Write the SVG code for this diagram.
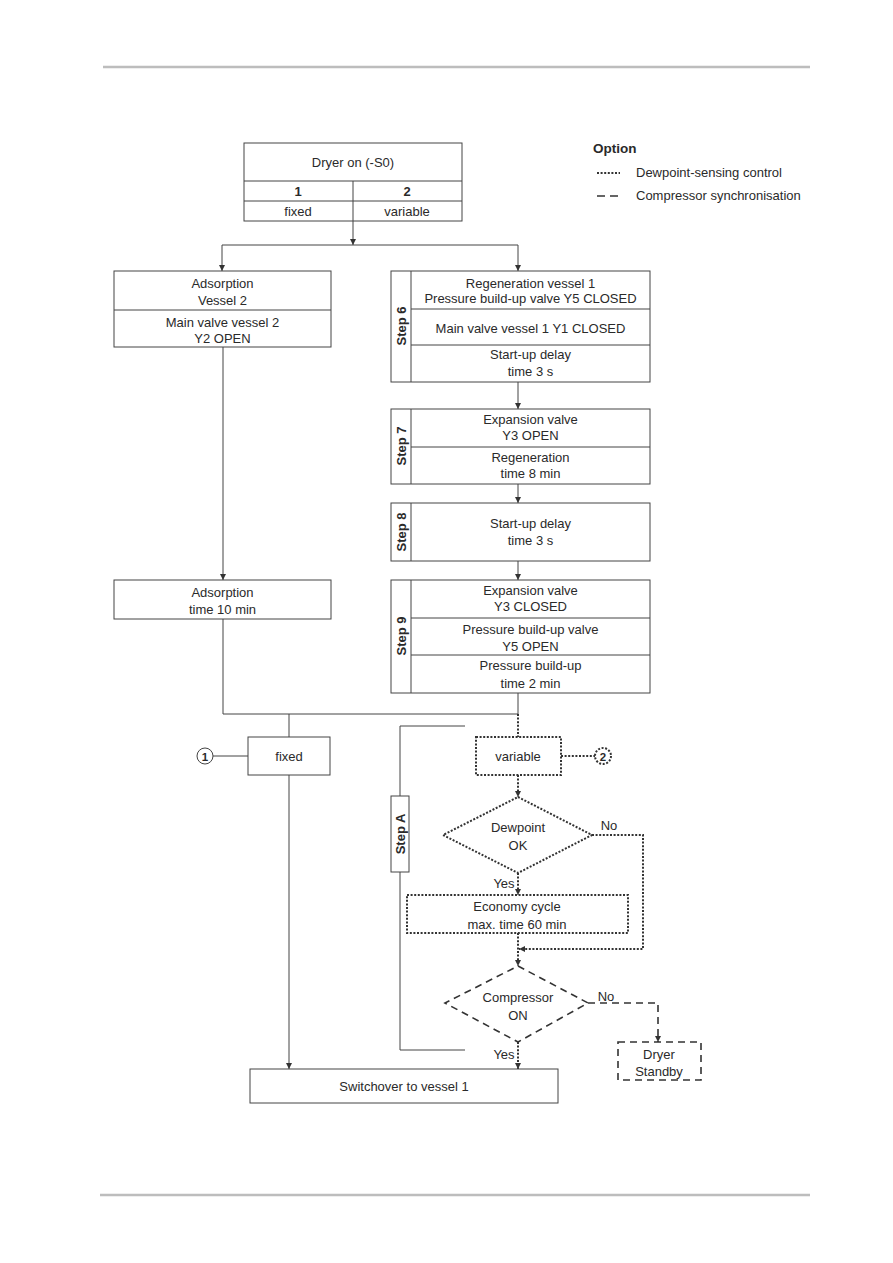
<svg xmlns="http://www.w3.org/2000/svg" width="893" height="1263" viewBox="0 0 893 1263">
<style>
text{font-family:"Liberation Sans",Arial,sans-serif;font-size:13px;fill:#2a2a2a;text-anchor:middle}
.b{font-weight:bold}
.box{fill:#fff;stroke:#444;stroke-width:1}
.ln{fill:none;stroke:#444;stroke-width:1}
.dot{fill:none;stroke:#333;stroke-width:2;stroke-dasharray:2 1.6}
.dash{fill:none;stroke:#333;stroke-width:1.6;stroke-dasharray:7 5}
.rule{stroke:#bdbdbd;stroke-width:2.5}
</style>
<defs>
<marker id="ah" viewBox="0 0 10 10" refX="10" refY="5" markerWidth="6" markerHeight="6" orient="auto" markerUnits="userSpaceOnUse"><path d="M0,0 L10,5 L0,10 z" fill="#333"/></marker>
</defs>
<rect width="893" height="1263" fill="#fff"/>
<line class="rule" x1="103" y1="67" x2="810" y2="67"/>
<line class="rule" x1="100" y1="1195" x2="810" y2="1195"/>

<g id="legend">
<text class="b" x="593" y="153" style="text-anchor:start;font-size:13.5px">Option</text>
<line class="dot" x1="597" y1="173" x2="620" y2="173"/>
<text x="636" y="177" style="text-anchor:start">Dewpoint-sensing control</text>
<line class="dash" x1="597" y1="196" x2="622" y2="196" style="stroke-dasharray:8 5"/>
<text x="636" y="200" style="text-anchor:start">Compressor synchronisation</text>
</g>

<g id="connectors">
<line class="ln" x1="353" y1="221" x2="353" y2="245" marker-end="url(#ah)"/>
<line class="ln" x1="222" y1="245" x2="518" y2="245"/>
<line class="ln" x1="222" y1="245" x2="222" y2="271" marker-end="url(#ah)"/>
<line class="ln" x1="518" y1="245" x2="518" y2="271" marker-end="url(#ah)"/>
<line class="ln" x1="223" y1="347" x2="223" y2="580" marker-end="url(#ah)"/>
<line class="ln" x1="518" y1="382" x2="518" y2="409" marker-end="url(#ah)"/>
<line class="ln" x1="518" y1="484" x2="518" y2="503" marker-end="url(#ah)"/>
<line class="ln" x1="518" y1="561" x2="518" y2="580" marker-end="url(#ah)"/>
<polyline class="ln" points="223,619 223,714 518,714 518,693"/>
<line class="ln" x1="289" y1="714" x2="289" y2="737"/>
<line class="dot" x1="518" y1="714" x2="518" y2="737"/>
<line class="ln" x1="213" y1="756" x2="248" y2="756"/>
<line class="ln" x1="289" y1="775" x2="289" y2="1069" marker-end="url(#ah)"/>
<line class="dot" x1="561" y1="756" x2="595" y2="756"/>
<polyline class="ln" points="465,726 400,726 400,796"/>
<polyline class="ln" points="400,872 400,1050 465,1050"/>
<line class="dot" x1="518" y1="775" x2="518" y2="797" marker-end="url(#ah)"/>
<polyline class="dot" points="592,835 643,835 643,949 519,949" marker-end="url(#ah)"/>
<line class="dot" x1="518" y1="873" x2="518" y2="895" marker-end="url(#ah)"/>
<line class="dot" x1="518" y1="933" x2="518" y2="966" marker-end="url(#ah)"/>
<polyline class="dash" points="588,1003 658,1003 658,1042" marker-end="url(#ah)"/>
<line class="dot" x1="518" y1="1042" x2="518" y2="1069" marker-end="url(#ah)"/>
<text x="609" y="830">No</text>
<text x="504" y="888">Yes</text>
<text x="606" y="1001">No</text>
<text x="504" y="1059">Yes</text>
</g>

<g id="dryer-on">
<rect class="box" x="244" y="143" width="218" height="78"/>
<line class="ln" x1="244" y1="181" x2="462" y2="181"/>
<line class="ln" x1="244" y1="201" x2="462" y2="201"/>
<line class="ln" x1="353" y1="181" x2="353" y2="221"/>
<text x="353" y="167">Dryer on (-S0)</text>
<text class="b" x="298" y="196">1</text>
<text class="b" x="407" y="196">2</text>
<text x="298" y="216">fixed</text>
<text x="407" y="216">variable</text>
</g>

<g id="adsorption-vessel2">
<rect class="box" x="114" y="271" width="217" height="76"/>
<line class="ln" x1="114" y1="310" x2="331" y2="310"/>
<text x="222.5" y="288">Adsorption</text>
<text x="222.5" y="305">Vessel 2</text>
<text x="222.5" y="327">Main valve vessel 2</text>
<text x="222.5" y="343">Y2 OPEN</text>
</g>

<g id="adsorption-time">
<rect class="box" x="114" y="580" width="217" height="39"/>
<text x="222.5" y="597">Adsorption</text>
<text x="222.5" y="614">time 10 min</text>
</g>

<g id="step6">
<rect class="box" x="391" y="271" width="259" height="111"/>
<line class="ln" x1="411" y1="271" x2="411" y2="382"/>
<line class="ln" x1="411" y1="309" x2="650" y2="309"/>
<line class="ln" x1="411" y1="345" x2="650" y2="345"/>
<text class="b" transform="translate(405.5,326) rotate(-90)">Step 6</text>
<text x="530.5" y="288">Regeneration vessel 1</text>
<text x="530.5" y="303">Pressure build-up valve Y5 CLOSED</text>
<text x="530.5" y="333">Main valve vessel 1 Y1 CLOSED</text>
<text x="530.5" y="359">Start-up delay</text>
<text x="530.5" y="376">time 3 s</text>
</g>

<g id="step7">
<rect class="box" x="391" y="409" width="259" height="75"/>
<line class="ln" x1="411" y1="409" x2="411" y2="484"/>
<line class="ln" x1="411" y1="447" x2="650" y2="447"/>
<text class="b" transform="translate(405.5,446) rotate(-90)">Step 7</text>
<text x="530.5" y="424">Expansion valve</text>
<text x="530.5" y="440">Y3 OPEN</text>
<text x="530.5" y="462">Regeneration</text>
<text x="530.5" y="478">time 8 min</text>
</g>

<g id="step8">
<rect class="box" x="391" y="503" width="259" height="58"/>
<line class="ln" x1="411" y1="503" x2="411" y2="561"/>
<text class="b" transform="translate(405.5,532) rotate(-90)">Step 8</text>
<text x="530.5" y="528">Start-up delay</text>
<text x="530.5" y="545">time 3 s</text>
</g>

<g id="step9">
<rect class="box" x="391" y="580" width="259" height="113"/>
<line class="ln" x1="411" y1="580" x2="411" y2="693"/>
<line class="ln" x1="411" y1="618" x2="650" y2="618"/>
<line class="ln" x1="411" y1="655" x2="650" y2="655"/>
<text class="b" transform="translate(405.5,636) rotate(-90)">Step 9</text>
<text x="530.5" y="595">Expansion valve</text>
<text x="530.5" y="611">Y3 CLOSED</text>
<text x="530.5" y="634">Pressure build-up valve</text>
<text x="530.5" y="651">Y5 OPEN</text>
<text x="530.5" y="670">Pressure build-up</text>
<text x="530.5" y="688">time 2 min</text>
</g>

<g id="circle1">
<circle cx="205" cy="756" r="8" fill="#fff" stroke="#444" stroke-width="1"/>
<text class="b" x="205" y="760.5" style="font-size:11.5px">1</text>
</g>

<g id="fixed">
<rect class="box" x="248" y="737" width="82" height="38"/>
<text x="289" y="760.5">fixed</text>
</g>

<g id="variable">
<rect class="dot" x="476" y="737" width="85" height="38" fill="#fff"/>
<text x="518" y="760.5">variable</text>
</g>

<g id="circle2">
<circle class="dot" cx="603" cy="756" r="8" fill="#fff"/>
<text class="b" x="603" y="760.5" style="font-size:11.5px">2</text>
</g>

<g id="stepA">
<rect class="box" x="391" y="796" width="18" height="76"/>
<text class="b" transform="translate(404.5,834) rotate(-90)">Step A</text>
</g>

<g id="dewpoint">
<polygon class="dot" points="518,797 592,835 518,873 443,835" fill="#fff"/>
<text x="518" y="832">Dewpoint</text>
<text x="518" y="850">OK</text>
</g>

<g id="economy">
<rect class="dot" x="407" y="895" width="221" height="38" fill="#fff"/>
<text x="517" y="911">Economy cycle</text>
<text x="517" y="929">max. time 60 min</text>
</g>

<g id="compressor">
<polygon class="dash" points="518,966 588,1003 518,1042 445,1003" fill="#fff"/>
<text x="518" y="1002">Compressor</text>
<text x="518" y="1020">ON</text>
</g>

<g id="standby">
<rect class="dash" x="618" y="1042" width="83" height="38" fill="#fff"/>
<text x="659" y="1059">Dryer</text>
<text x="659" y="1076">Standby</text>
</g>

<g id="switchover">
<rect class="box" x="250" y="1069" width="308" height="34"/>
<text x="404" y="1090.5">Switchover to vessel 1</text>
</g>
</svg>
